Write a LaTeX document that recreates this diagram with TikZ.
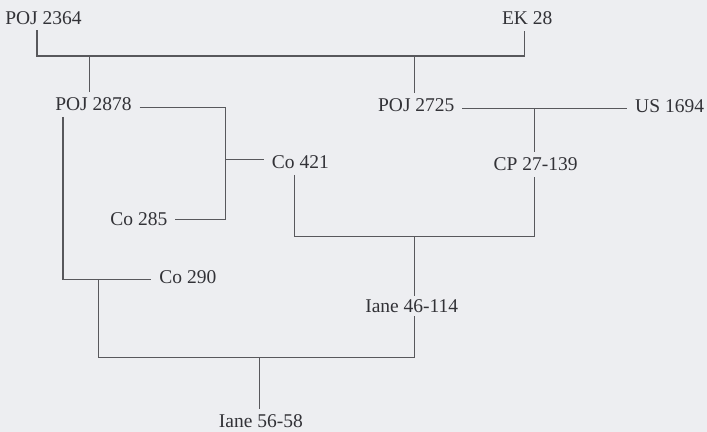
\documentclass[tikz,border=0pt]{standalone}
\usepackage{fontspec}
\setmainfont{Liberation Serif}
\usetikzlibrary{positioning}
\definecolor{paper}{RGB}{237,238,241}
\definecolor{ink}{RGB}{50,50,55}
\definecolor{wire}{RGB}{88,88,92}

\begin{document}
\begin{tikzpicture}[
  x=1pt, y=-1pt,
  every node/.style={font=\fontsize{19.5}{22}\selectfont, text=ink},
  clone/.style={anchor=base, inner xsep=3pt, inner ysep=1pt, outer sep=5pt, text height=13pt, text depth=0pt},
  link/.style={wire, line width=1.1pt}
]

% Background
\fill[paper] (0,0) rectangle (707,432);

% Nodes
\node[clone] (p2364)  at (43.5,24.5) {POJ 2364};
\node[clone] (ek28)   at (527.5,25)  {EK 28};
\node[clone] (p2878)  at (93.5,111)  {POJ 2878};
\node[clone] (p2725)  at (416.5,112) {POJ 2725};
\node[clone] (us1694) at (670,113)   {US 1694};
\node[clone] (co421)  at (300.5,169) {Co 421};
\node[clone] (cp27)   at (536,171)   {CP 27-139};
\node[clone] (co285)  at (139,226)   {Co 285};
\node[clone] (co290)  at (188,284)   {Co 290};
\node[clone, inner ysep=3.5pt, outer sep=0pt] (iane46) at (412,313) {Iane 46-114};
\node[clone] (iane56) at (261,428)   {Iane 56-58};

% Junctions
\coordinate (tl) at (37,56);
\coordinate (tr) at (525,56);
\coordinate (a) at (90,56);
\coordinate (b) at (415,56);
\coordinate (c) at (226,108);
\coordinate (d) at (226,160);
\coordinate (e) at (535,109);
\coordinate (f) at (295,237);
\coordinate (g) at (535,237);
\coordinate (h) at (415,237);
\coordinate (k) at (63,280);
\coordinate (m) at (99,280);
\coordinate (n) at (99,358);
\coordinate (o) at (415,358);
\coordinate (q) at (260,358);

% Edges
\draw[link] (p2364.south -| tl) -- (tl) -- (tr) -- (ek28.south -| tr);
\draw[link] (a) -- (p2878.north -| a);
\draw[link] (b) -- (p2725.north -| b);
\draw[link] (p2878.east |- c) -- (c) -- (c |- co285.east) -- (co285.east);
\draw[link] (d) -- (co421.west |- d);
\draw[link] (p2725.east |- e) -- (us1694.west |- e);
\draw[link] (e) -- (cp27.north -| e);
\draw[link] (co421.south -| f) -- (f) -- (g) -- (cp27.south -| g);
\draw[link] (h) -- (iane46.north -| h);
\draw[link] (iane46.south -| h) -- (o);
\draw[link] (p2878.south -| k) -- (k) -- (co290.west |- k);
\draw[link] (m) -- (n) -- (o);
\draw[link] (q) -- (iane56.north -| q);

\end{tikzpicture}
\end{document}
